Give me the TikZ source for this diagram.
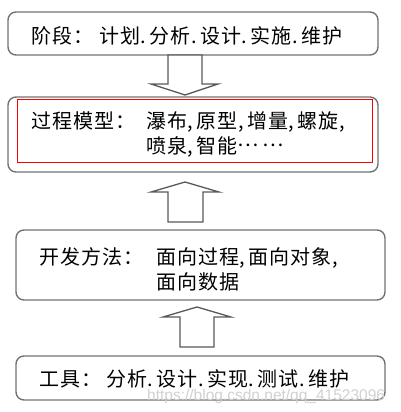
\documentclass[tikz,border=0pt]{standalone}
\usepackage{fontspec}
\setmainfont{Noto Sans CJK SC}[LetterSpace=5]
\newfontfamily\wmfont{Liberation Sans}
\newcommand\pd{\makebox[9.5pt][l]{\hspace{0.5pt}.}}
\newcommand\pc{\makebox[9.5pt][l]{\hspace{0.5pt},}}
\newcommand\midell{\raisebox{0.33em}{…\hspace{4pt}…}}
\begin{document}
\begin{tikzpicture}[x=1pt,y=-1pt,
  box/.style={draw=black!55, line width=1.4pt, rounded corners=8pt, fill=white, inner sep=0pt},
  txt/.style={anchor=base west, inner sep=0pt, font=\fontsize{20}{24}\selectfont},
  blk/.style={draw=black!65, line width=1.3pt, fill=white, line join=miter},
  redbox/.style={draw=red, line width=1pt},
  wm/.style={anchor=base west, inner sep=0pt, text=black!18, font=\wmfont\fontsize{15.5}{18}\selectfont}]
\useasboundingbox (0,0) rectangle (401,412);
% boxes
\node[box, minimum width=370pt, minimum height=43pt] (b1) at (193,33.5) {};
\node[box, minimum width=370pt, minimum height=75pt] (b2) at (193,134.5) {};
\node[box, minimum width=369pt, minimum height=70pt] (b3) at (200.5,265) {};
\node[box, minimum width=369pt, minimum height=44pt] (b4) at (200.5,378) {};
\draw[redbox] (17,99) rectangle (372,162);
% block arrows
\draw[blk] (168,55) -- (202,55) -- (202,84) -- (218,84) -- (185,95) -- (151,84) -- (168,84) -- cycle;
\draw[blk] (185,182) -- (219,192) -- (203,192) -- (203,222) -- (168,222) -- (168,192) -- (151,192) -- cycle;
\draw[blk] (197,307) -- (231,317) -- (214,317) -- (214,347) -- (180,347) -- (180,317) -- (163,317) -- cycle;
% texts
\node[txt] (t1a) at (31,43.5) {阶段：};
\node[txt] (t1b) at (99,43.5) {计划\pd 分析\pd 设计\pd 实施\pd 维护};
\node[txt] (t2a) at (31,128.5) {过程模型：};
\node[txt] (t2b) at (146,128.5) {瀑布\pc 原型\pc 增量\pc 螺旋\pc};
\node[txt] (t2c) at (146,153.5) {喷泉\pc 智能\midell};
\node[txt] (t3a) at (39,264.5) {开发方法：};
\node[txt] (t3b) at (156,264.5) {面向过程\pc 面向对象\pc};
\node[txt] (t3c) at (156,289.5) {面向数据};
\node[txt] (t4a) at (39,386) {工具：};
\node[txt] (t4b) at (106,386) {分析\pd 设计\pd 实现\pd 测试\pd 维护};
\node[wm] (wmk) at (147,400) {https://blog.csdn.net/qq\_41523096};
\end{tikzpicture}
\end{document}
